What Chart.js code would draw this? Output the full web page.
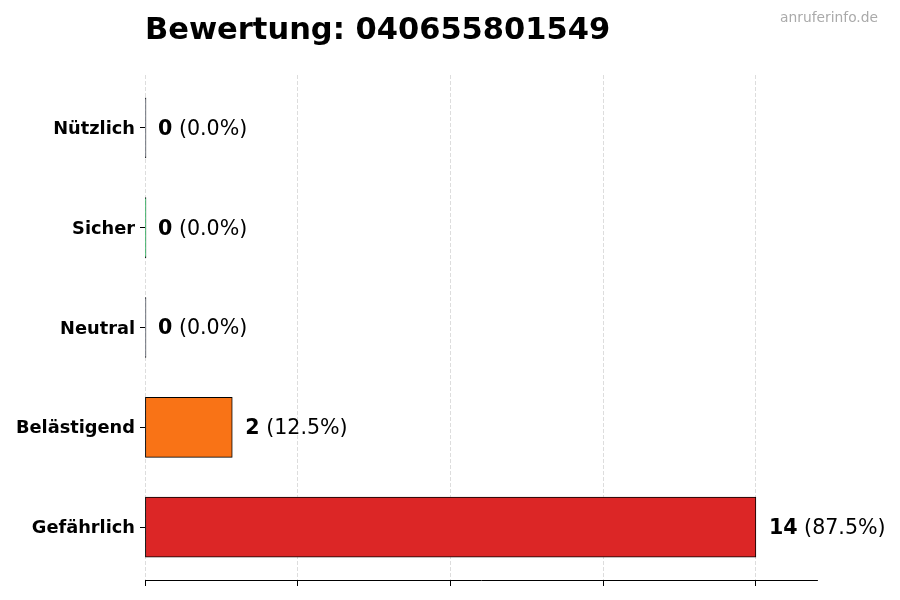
<!DOCTYPE html>
<html>
<head>
<meta charset="utf-8">
<script src="https://cdn.jsdelivr.net/npm/chart.js@4"></script>
<style>
  html, body { margin: 0; padding: 0; background: #fff; }
  #wrap { width: 900px; height: 600px; position: relative; }
</style>
</head>
<body>
<div id="wrap"><canvas id="myChart"></canvas></div>
<script>
// daten
var categories = ['Nützlich', 'Sicher', 'Neutral', 'Belästigend', 'Gefährlich'];
var counts = [0, 0, 0, 2, 14];
var percents = ['0.0%', '0.0%', '0.0%', '12.5%', '87.5%'];
var barColors = ['#6b7280', '#22c55e', '#6b7280', '#f97316', '#dc2626'];
var xTicks = [0, 3.5, 7, 10.5, 14];
var xMax = 15.4;

var titleText = 'Bewertung: 040655801549';
var watermark = 'anruferinfo.de';
var FONT = "'DejaVu Sans', sans-serif";

// punkte fuer die linear-y achse (index = position)
var points = counts.map(function(c, i) { return { x: c, y: i }; });

// titel, wasserzeichen und werte neben den balken
var labelPlugin = {
  id: 'labels',
  afterDatasetsDraw: function(chart) {
    var ctx = chart.ctx;
    var area = chart.chartArea;
    ctx.save();
    ctx.textBaseline = 'middle';
    ctx.fillStyle = '#000';
    ctx.font = 'bold 30.5px ' + FONT;
    ctx.textAlign = 'left';
    ctx.fillText(titleText, area.left, 31);

    ctx.font = '13.8px ' + FONT;
    ctx.fillStyle = '#aaaaaa';
    ctx.textAlign = 'right';
    ctx.fillText(watermark, 878, 18);

    var meta = chart.getDatasetMeta(0);
    var xs = chart.scales.x;
    ctx.textAlign = 'left';
    for (var i = 0; i < counts.length; i++) {
      var bar = meta.data[i];
      var x = xs.getPixelForValue(counts[i]) + 13;
      var y = bar.y + 1.5;
      ctx.fillStyle = '#000';
      ctx.font = 'bold 20.6px ' + FONT;
      var num = String(counts[i]);
      ctx.fillText(num, x, y);
      var w = ctx.measureText(num).width;
      ctx.font = '20.6px ' + FONT;
      ctx.fillText(' (' + percents[i] + ')', x + w, y);
    }
    ctx.restore();
  }
};

var config = {
  type: 'bar',
  data: {
    datasets: [{
      data: points,
      backgroundColor: barColors,
      borderColor: '#000',
      borderWidth: 1,
      borderSkipped: false,
      barThickness: 60,
      minBarLength: 1
    }]
  },
  options: {
    indexAxis: 'y',
    responsive: true,
    maintainAspectRatio: false,
    animation: false,
    layout: { padding: { top: 75, right: 83, bottom: 0, left: 0 } },
    plugins: {
      legend: { display: false },
      title: { display: false },
      tooltip: { enabled: false }
    },
    scales: {
      x: {
        type: 'linear',
        min: 0,
        max: xMax,
        afterBuildTicks: function(scale) {
          scale.ticks = xTicks.map(function(v) { return { value: v }; });
        },
        afterFit: function(scale) { scale.height = 20; },
        ticks: { display: false },
        grid: {
          color: 'rgba(0,0,0,0.17)',
          lineWidth: 0.8,
          drawTicks: true,
          tickLength: 6,
          tickColor: '#000',
          tickWidth: 1
        },
        border: { display: true, color: '#000', width: 1, dash: [4, 2] }
      },
      y: {
        type: 'linear',
        reverse: true,
        offset: false,
        min: -0.53,
        max: 4.53,
        afterBuildTicks: function(scale) {
          scale.ticks = categories.map(function(c, i) { return { value: i }; });
        },
        afterFit: function(scale) { scale.width = 145; },
        ticks: {
          color: '#000',
          padding: 5,
          labelOffset: 1.5,
          font: { family: FONT, size: 17.8, weight: 'bold' },
          callback: function(v) { return categories[v]; }
        },
        grid: {
          offset: false,
          drawOnChartArea: false,
          drawTicks: true,
          tickLength: 5,
          tickColor: '#000'
        },
        border: { display: false }
      }
    }
  },
  plugins: [labelPlugin]
};

var myChart = new Chart(document.getElementById('myChart'), config);
</script>
</body>
</html>
